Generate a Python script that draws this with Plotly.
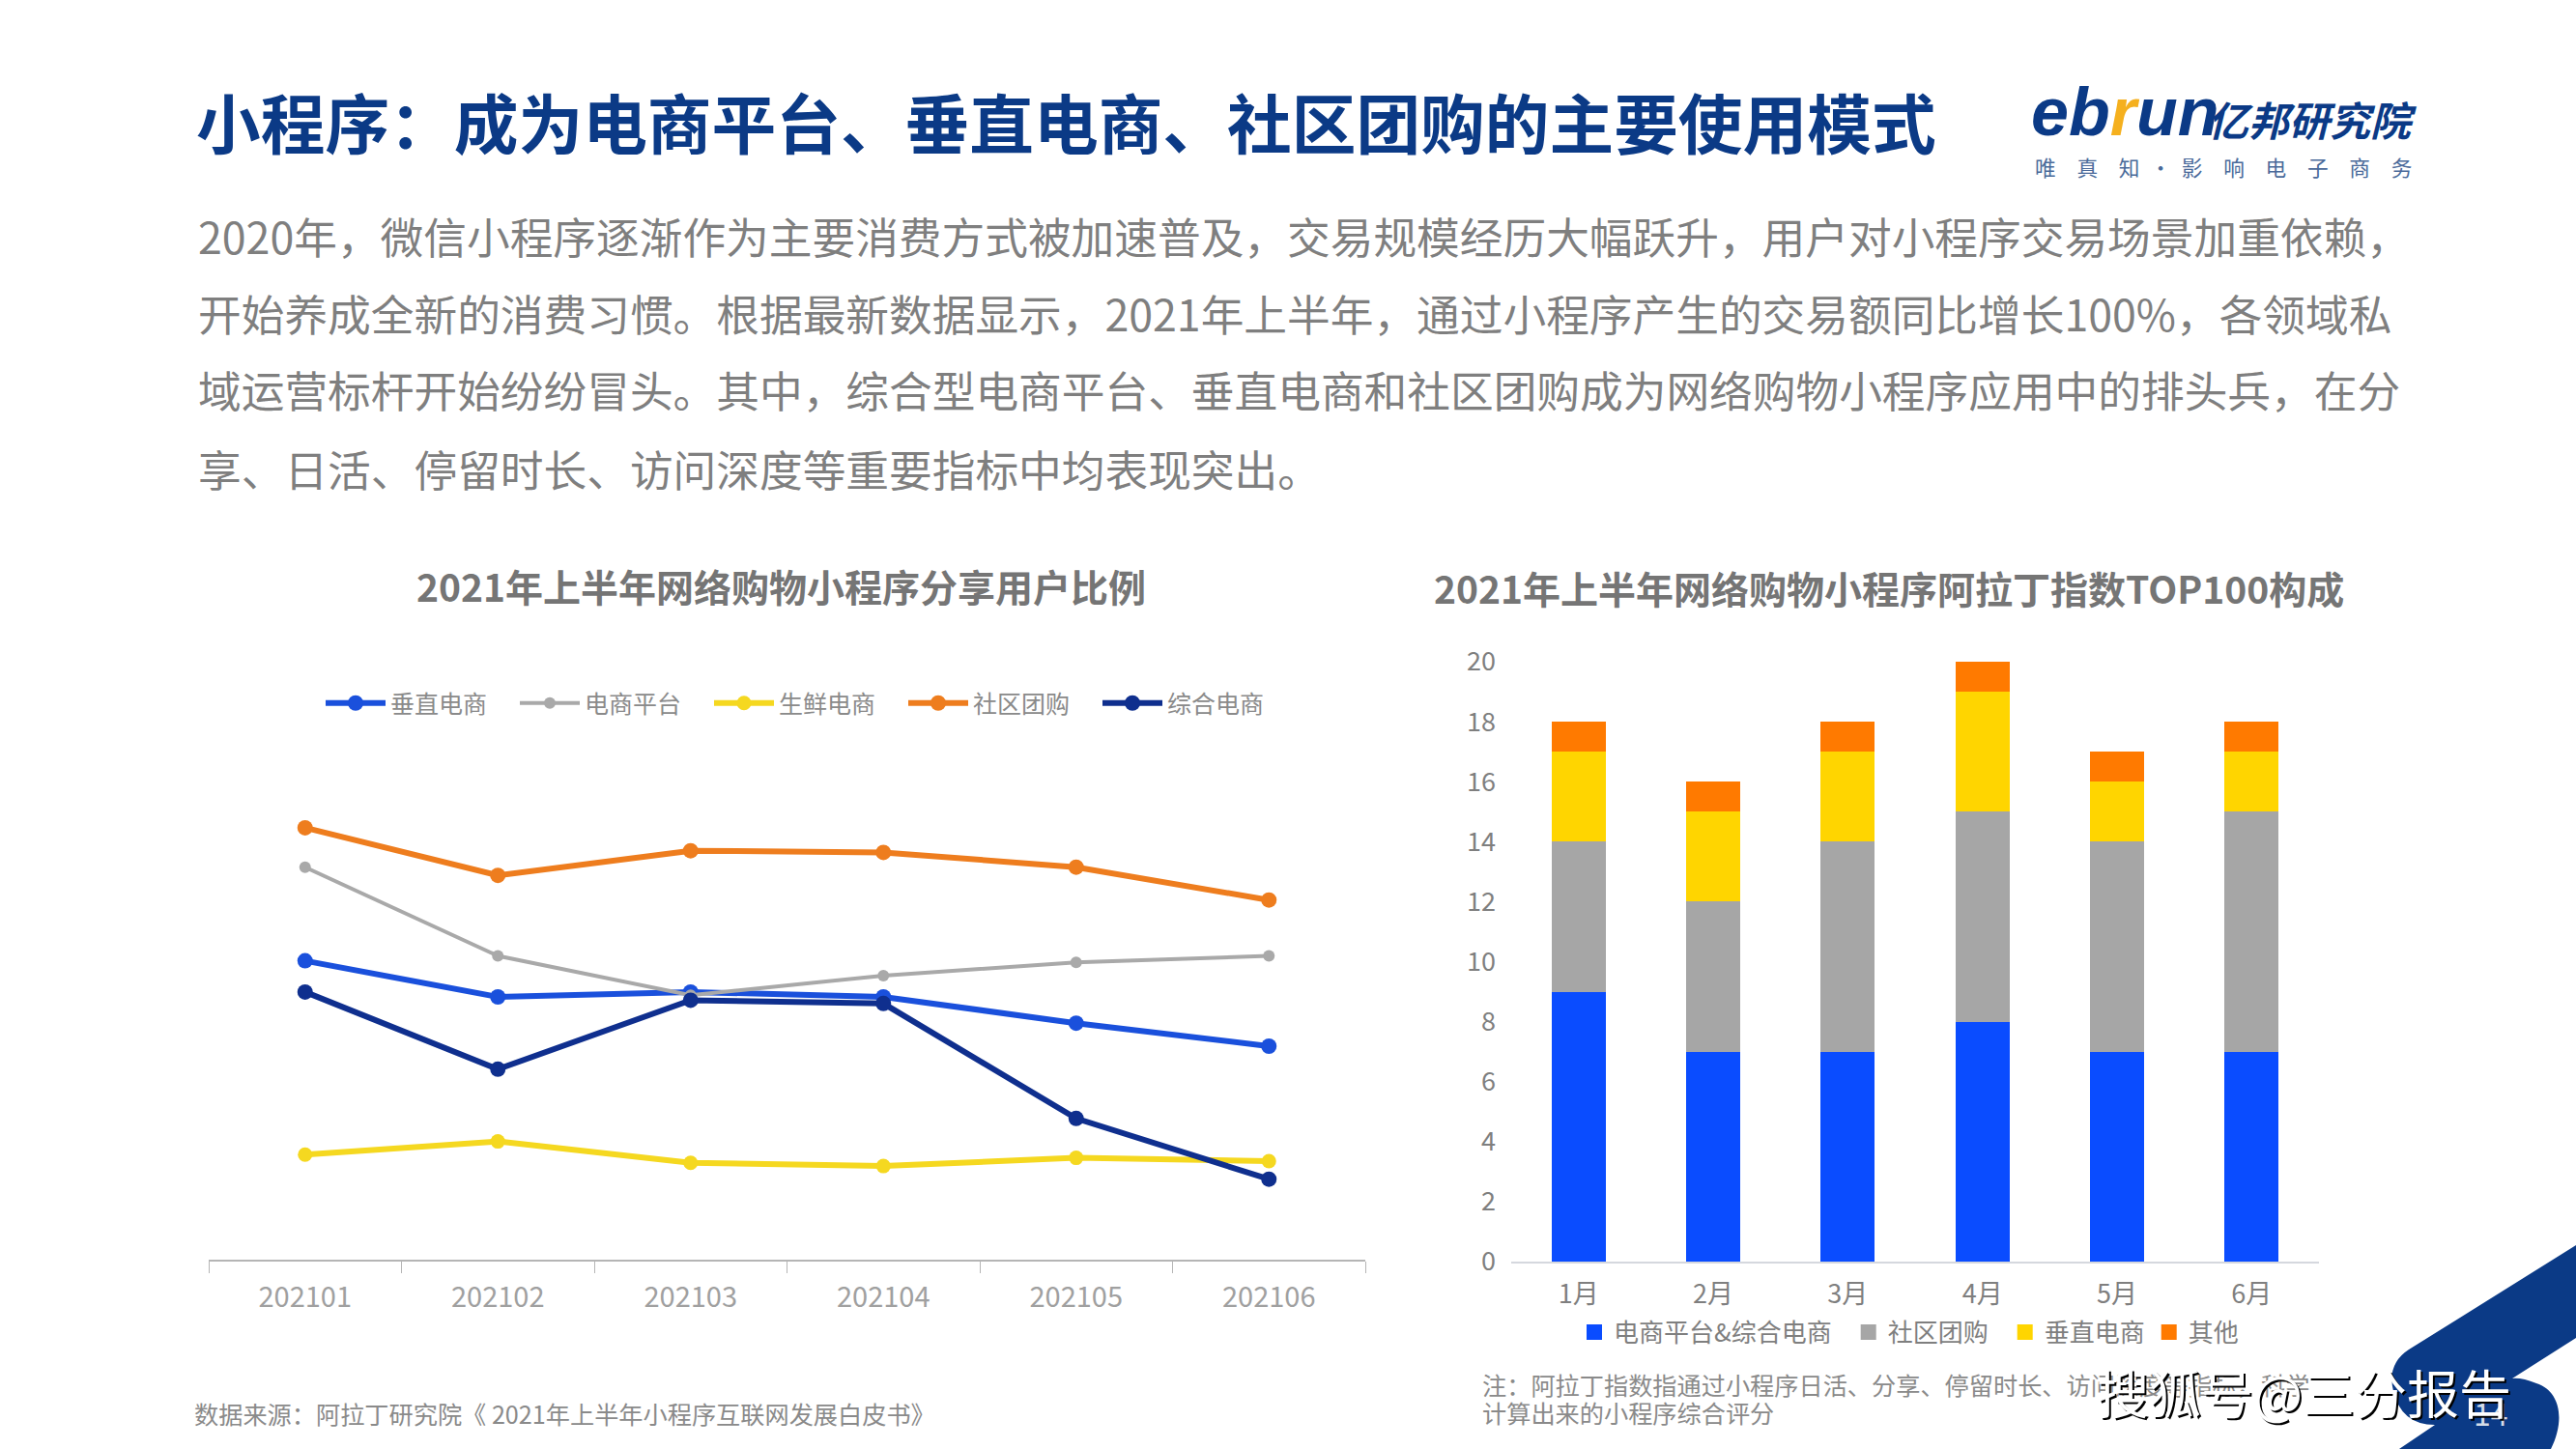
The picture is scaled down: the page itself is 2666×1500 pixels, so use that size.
import plotly.graph_objects as go

# 左图 line chart data
months_line = ['202101', '202102', '202103', '202104', '202105', '202106']
vertical_ec = [18.2, 16.0, 16.3, 16.0, 14.4, 13.0]
ec_platform = [23.9, 18.5, 16.1, 17.3, 18.1, 18.5]
fresh_ec = [6.4, 7.2, 5.9, 5.7, 6.2, 6.0]
community = [26.3, 23.4, 24.9, 24.8, 23.9, 21.9]
general_ec = [16.3, 11.6, 15.8, 15.6, 8.6, 4.9]

# 右图 stacked bars
months_bar = ['1月', '2月', '3月', '4月', '5月', '6月']
bar_platform = [9, 7, 7, 8, 7, 7]
bar_community = [5, 5, 7, 7, 7, 8]
bar_vertical = [3, 3, 3, 4, 2, 2]
bar_other = [1, 1, 1, 1, 1, 1]
bar_ticks = [0, 2, 4, 6, 8, 10, 12, 14, 16, 18, 20]

W, H = 2666, 1500
CJK = 'Noto Sans CJK SC'
NAVY = '#0b3a86'
BODY = '#7f7f7f'


def px(x):
    return x / W


def py(y):
    return 1 - y / H


def note(text, x, y, size, color, anchor='left', bold=False, **font_extra):
    return dict(text=f'<b>{text}</b>' if bold else text, x=px(x), y=py(y), xref='paper', yref='paper',
                xanchor=anchor, yanchor='middle', showarrow=False, align='left',
                font=dict(family=CJK, size=size, color=color, **font_extra))


fig = go.Figure()

line_series = [
    ('垂直电商', vertical_ec, '#1a50dc', 6, 16),
    ('电商平台', ec_platform, '#a9a9a9', 4, 12),
    ('生鲜电商', fresh_ec, '#f5d820', 6, 15),
    ('社区团购', community, '#ee7d1e', 6, 16),
    ('综合电商', general_ec, '#0f2f8e', 6, 16),
]
for name, vals, color, lw, ms in line_series:
    fig.add_trace(go.Scatter(x=months_line, y=vals, name=name, mode='lines+markers',
                             line=dict(color=color, width=lw), marker=dict(color=color, size=ms),
                             xaxis='x', yaxis='y', legend='legend'))

# trailing en spaces widen the legend gaps, entries are not evenly spaced in the original
bar_series = [
    ('电商平台&综合电商', bar_platform, '#0a4cff', '\u2002'),
    ('社区团购', bar_community, '#a6a6a6', '\u2002'),
    ('垂直电商', bar_vertical, '#ffd500', ''),
    ('其他', bar_other, '#ff7a00', ''),
]
for name, vals, color, pad in bar_series:
    fig.add_trace(go.Bar(x=months_bar, y=vals, name=name, marker_color=color, marker_line_width=0,
                         width=0.4, xaxis='x2', yaxis='y2', showlegend=False))
    # bigger legend swatch than the bar default
    fig.add_trace(go.Scatter(x=[None], y=[None], name=name + pad, mode='markers',
                             marker=dict(symbol='square', size=19, color=color),
                             xaxis='x2', yaxis='y2', legend='legend2'))

annotations = [
    note('小程序：成为电商平台、垂直电商、社区团购的主要使用模式', 201, 125, 66.7, NAVY, bold=True),
    note('2020年，微信小程序逐渐作为主要消费方式被加速普及，交易规模经历大幅跃升，用户对小程序交易场景加重依赖，', 203, 243, 44.7, BODY),
    note('开始养成全新的消费习惯。根据最新数据显示，2021年上半年，通过小程序产生的交易额同比增长100%，各领域私', 203, 323, 44.7, BODY),
    note('域运营标杆开始纷纷冒头。其中，综合型电商平台、垂直电商和社区团购成为网络购物小程序应用中的排头兵，在分', 203, 403, 44.7, BODY),
    note('享、日活、停留时长、访问深度等重要指标中均表现突出。', 203, 484, 44.7, BODY),
    note('2021年上半年网络购物小程序分享用户比例', 809, 606, 39, '#757575', anchor='center', bold=True),
    note('2021年上半年网络购物小程序阿拉丁指数TOP100构成', 1955, 608, 39, '#757575', anchor='center', bold=True),
    note('数据来源：阿拉丁研究院《 2021年上半年小程序互联网发展白皮书》', 199, 1463, 25.2, '#8a8a8a'),
    note('注：阿拉丁指数指通过小程序日活、分享、停留时长、访问深度等指标，科学', 1532, 1433, 25.2, '#8a8a8a'),
    note('计算出来的小程序综合评分', 1532, 1462, 25.2, '#8a8a8a'),
    note('14', 2578, 1462, 32, '#d5dce8', anchor='center'),
    note('搜狐号@三分报告', 2168, 1440, 54, '#ffffff', shadow='2px 2px 0px #000000'),
    # logo
    dict(text='<b><i>eb<span style="color:#f5b01e">r</span>un</i></b>', x=px(2100), y=py(116), xref='paper', yref='paper',
         xanchor='left', yanchor='middle', showarrow=False,
         font=dict(family='Liberation Sans', size=70, color=NAVY)),
    note('<i>亿邦研究院</i>', 2283, 122, 42, NAVY, bold=True),
    note('唯\u3000真\u3000知\u2002·\u2002影\u3000响\u3000电\u3000子\u3000商\u3000务', 2104, 173, 21.7, '#4a6a9a'),
]


# corner decoration, page pixels to paper coordinates
def pt(x, y):
    return f'{px(x):.5f},{py(y):.5f}'


corner = (f'M {pt(2666, 1289)} L {pt(2493, 1397)} Q {pt(2470, 1412)} {pt(2477, 1440)} '
          f'Q {pt(2485, 1475)} {pt(2520, 1475)} L {pt(2483, 1500)} L {pt(2640, 1500)} '
          f'C {pt(2655, 1470)} {pt(2650, 1440)} {pt(2625, 1432)} Q {pt(2610, 1426)} {pt(2600, 1427)} '
          f'L {pt(2666, 1385)} Z')

fig.update_layout(
    width=W, height=H,
    margin=dict(l=0, r=0, t=0, b=0, autoexpand=False),
    paper_bgcolor='white', plot_bgcolor='white',
    font=dict(family=CJK, color=BODY),
    barmode='stack',
    annotations=annotations,
    shapes=[dict(type='path', path=corner, xref='paper', yref='paper', fillcolor=NAVY, line_width=0)],
    xaxis=dict(domain=[px(216), px(1413)], anchor='y', range=[-0.5, 5.5], tickson='boundaries', ticks='outside',
               ticklen=12, tickcolor='#b5b5b5', linecolor='#b5b5b5', linewidth=2, showgrid=False,
               ticklabelstandoff=12, tickfont=dict(size=29, color='#a0a0a0')),
    yaxis=dict(domain=[py(1304), py(709)], anchor='x', range=[0, 35], visible=False),
    xaxis2=dict(domain=[px(1564), px(2400)], anchor='y2', showgrid=False, ticks='',
                linecolor='#d5d8de', linewidth=2, ticklabelstandoff=9, tickfont=dict(size=27, color=BODY)),
    yaxis2=dict(domain=[py(1306), py(685)], anchor='x2', range=[0, 20], tickvals=bar_ticks, showgrid=False,
                showline=False, ticks='', zeroline=False, ticklabelstandoff=15, tickfont=dict(size=27, color=BODY)),
    legend=dict(orientation='h', x=px(332), y=py(728), xanchor='left', yanchor='middle', traceorder='normal',
                entrywidth=124, entrywidthmode='pixels', itemwidth=62,
                font=dict(size=25, color='#8a8a8a'), bgcolor='rgba(0,0,0,0)'),
    legend2=dict(orientation='h', x=px(1630), y=py(1379), xanchor='left', yanchor='middle', traceorder='normal',
                 itemwidth=30, font=dict(size=26, color=BODY), bgcolor='rgba(0,0,0,0)'),
)

fig.write_html("out.html", config={'displayModeBar': False}, post_script="document.body.style.margin='0';")
